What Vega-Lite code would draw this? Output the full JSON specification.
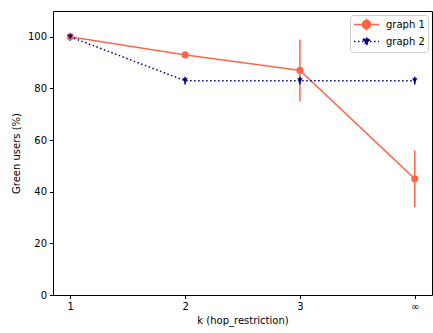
{
  "$schema": "https://vega.github.io/schema/vega-lite/v6.json",
  "width": 379,
  "height": 284,
  "autosize": "none",
  "padding": {"left": 53, "top": 11, "right": 1, "bottom": 38},
  "config": {
    "font": "DejaVu Sans",
    "view": {"stroke": "black", "strokeWidth": 1},
    "axis": {
      "grid": false,
      "domain": false,
      "tickColor": "black",
      "labelColor": "black",
      "titleColor": "black",
      "labelFontSize": 10,
      "titleFontSize": 10,
      "titleFontWeight": "normal",
      "tickSize": 3.5,
      "labelPadding": 3
    },
    "legend": {
      "labelFontSize": 10,
      "labelColor": "black"
    }
  },
  "data": {
    "values": [
      {"k": 1, "series": "graph 1", "pct": 100, "lo": 100, "hi": 100},
      {"k": 2, "series": "graph 1", "pct": 93, "lo": 93, "hi": 93},
      {"k": 3, "series": "graph 1", "pct": 87, "lo": 75, "hi": 99},
      {"k": 4, "series": "graph 1", "pct": 45, "lo": 34, "hi": 56},
      {"k": 1, "series": "graph 2", "pct": 100, "lo": 98.5, "hi": 101.5},
      {"k": 2, "series": "graph 2", "pct": 83, "lo": 81.5, "hi": 84.5},
      {"k": 3, "series": "graph 2", "pct": 83, "lo": 81.5, "hi": 84.5},
      {"k": 4, "series": "graph 2", "pct": 83, "lo": 81.5, "hi": 84.5}
    ]
  },
  "encoding": {
    "x": {
      "field": "k",
      "type": "quantitative",
      "scale": {"domain": [0.85, 4.15], "nice": false, "zero": false},
      "axis": {
        "values": [1, 2, 3, 4],
        "labelExpr": "datum.value == 4 ? '∞' : datum.value",
        "title": "k (hop_restriction)",
        "titlePadding": 4
      }
    },
    "color": {
      "field": "series",
      "type": "nominal",
      "scale": {"domain": ["graph 1", "graph 2"], "range": ["#fe6448", "#00007f"]},
      "legend": {
        "title": null,
        "orient": "top-right",
        "offset": 4,
        "strokeColor": "#cccccc",
        "fillColor": "white",
        "cornerRadius": 3,
        "padding": 3,
        "rowPadding": 0,
        "labelOffset": 20,
        "symbolSize": 121,
        "symbolStrokeWidth": 1.5,
        "encode": {
          "symbols": {
            "update": {
              "shape": {"signal": "datum.value == 'graph 1' ? 'M-1,0H3.55M1.27,-1.1V1.1M2,0A0.73,0.73 0 1,1 0.54,0A0.73,0.73 0 1,1 2,0Z' : 'M-1,0H3.55M1.27,-0.75V0.75M0.63,-0.45L1.91,-0.45L1.27,0.7Z'"},
              "size": {"value": 121},
              "fill": {"signal": "datum.value == 'graph 1' ? '#fe6448' : '#00007f'"},
              "stroke": {"signal": "datum.value == 'graph 1' ? '#fe6448' : '#00007f'"},
              "strokeWidth": {"value": 1.5},
              "strokeDash": {"signal": "datum.value == 'graph 1' ? [1, 0] : [1.5, 2.5]"},
              "opacity": {"value": 1}
            }
          }
        }
      }
    }
  },
  "layer": [
    {
      "mark": {"type": "rule", "strokeWidth": 1.5},
      "encoding": {
        "y": {"field": "lo", "type": "quantitative"},
        "y2": {"field": "hi"}
      }
    },
    {
      "mark": {"type": "line", "strokeWidth": 1.5},
      "encoding": {
        "y": {
          "field": "pct",
          "type": "quantitative",
          "scale": {"domain": [0, 110], "nice": false},
          "axis": {"values": [0, 20, 40, 60, 80, 100], "title": "Green users (%)", "titlePadding": 6}
        },
        "strokeDash": {
          "field": "series",
          "type": "nominal",
          "scale": {"domain": ["graph 1", "graph 2"], "range": [[1, 0], [1.5, 2.5]]},
          "legend": null
        }
      }
    },
    {
      "transform": [{"filter": "datum.series == 'graph 1'"}],
      "mark": {"type": "point", "shape": "circle", "filled": true, "opacity": 1, "size": 50},
      "encoding": {
        "y": {"field": "pct", "type": "quantitative"}
      }
    },
    {
      "transform": [{"filter": "datum.series == 'graph 2'"}],
      "mark": {"type": "point", "shape": "triangle-down", "filled": true, "opacity": 1, "size": 30},
      "encoding": {
        "y": {"field": "pct", "type": "quantitative"}
      }
    }
  ]
}
